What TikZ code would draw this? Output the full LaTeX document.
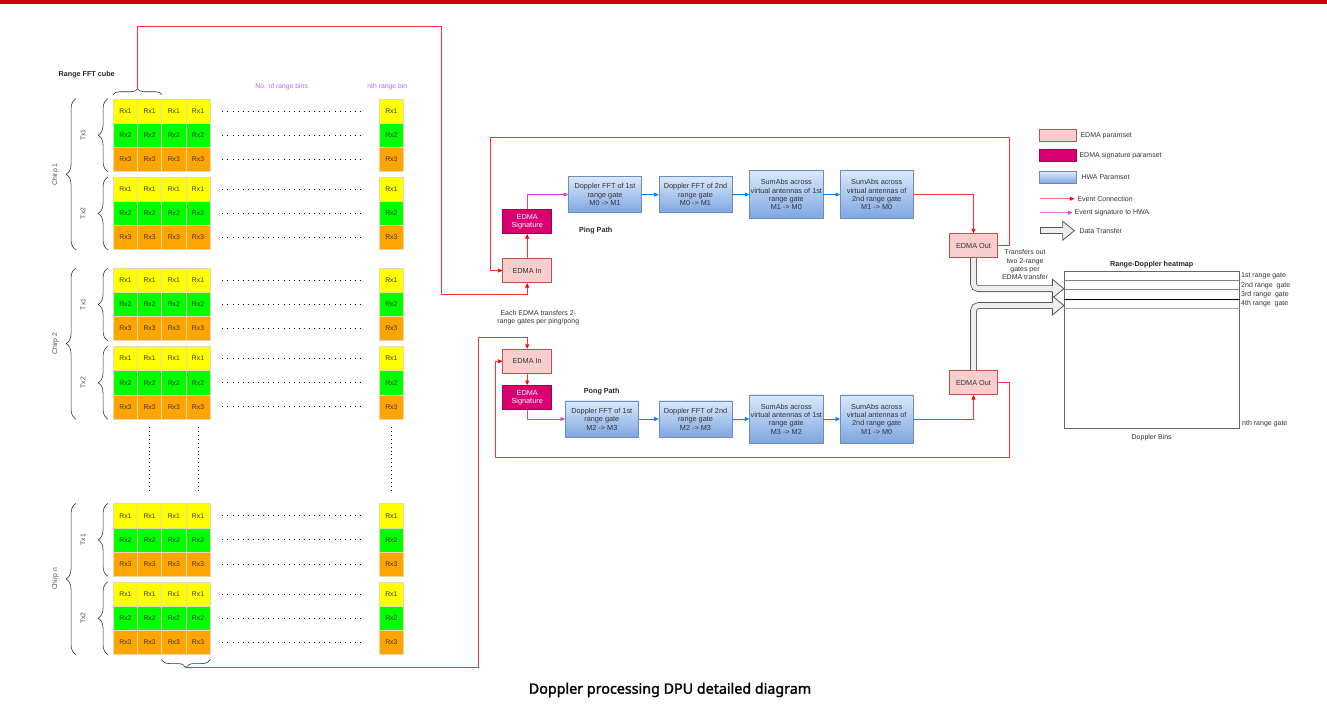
\documentclass[tikz,border=0pt]{standalone}
\usepackage{fontspec}
\setmainfont{Liberation Sans}
\newfontfamily\capfont[AutoFakeBold=1.6]{Noto Sans}
\usetikzlibrary{positioning,arrows.meta,decorations.pathreplacing,calc}

\definecolor{rxa}{HTML}{FFFF00}
\definecolor{rxb}{HTML}{00FF00}
\definecolor{rxc}{HTML}{FFA500}
\definecolor{celledge}{HTML}{E8D9A8}
\definecolor{edmafill}{HTML}{F8CECC}
\definecolor{edmaline}{HTML}{B85450}
\definecolor{sigfill}{HTML}{D80073}
\definecolor{sigedge}{HTML}{A50040}
\definecolor{hwatop}{HTML}{DAE8FC}
\definecolor{hwabot}{HTML}{7EA6E0}
\definecolor{hwaline}{HTML}{6C8EBF}
\definecolor{evcol}{HTML}{FF3333}
\definecolor{sigcol}{HTML}{D040D0}
\definecolor{hwacol}{HTML}{007FFF}
\definecolor{binlbl}{HTML}{B266FF}
\definecolor{xferfill}{HTML}{EEEEEE}
\definecolor{xferline}{HTML}{555555}
\definecolor{txtcol}{HTML}{333333}

\tikzset{
  cell/.style={draw=celledge, line width=0.5pt, minimum width=24.2pt, minimum height=24.1pt,
    inner sep=0pt, font=\fontsize{6.8}{8}\selectfont, text=txtcol},
  rowdots/.style={line width=0.9pt, dash pattern=on 0.9pt off 4.2pt},
  coldots/.style={line width=0.9pt, dash pattern=on 0.9pt off 3pt},
  brc/.style={decorate, decoration={brace, amplitude=10pt}, draw=txtcol, line width=0.6pt},
  sidelbl/.style={rotate=90, font=\fontsize{6.8}{8}\selectfont, text=black!70},
  txt/.style={font=\fontsize{7.3}{8.4}\selectfont, text=txtcol, align=center},
  boldtxt/.style={font=\fontsize{7.2}{8.4}\selectfont\bfseries, text=black!85},
  edmabox/.style={draw=edmaline, fill=edmafill, line width=0.6pt, minimum width=49pt,
    minimum height=24.4pt, txt},
  sigbox/.style={draw=sigedge, fill=sigfill, line width=0.6pt, minimum width=49pt,
    minimum height=24.4pt, txt, text=white},
  hwabox/.style={draw=hwaline, top color=hwatop, bottom color=hwabot, line width=0.6pt,
    minimum width=73pt, minimum height=35.8pt, inner sep=1pt, txt},
  sumbox/.style={hwabox, minimum width=72.7pt, minimum height=48.2pt},
  evt/.style={draw=evcol, line width=0.7pt, -{Triangle[length=4.5pt,width=4pt,color=red]}},
  sigarr/.style={draw=sigcol, line width=0.7pt, -{Triangle[length=4.5pt,width=4pt,color=sigcol]}},
  hwaarr/.style={draw=hwacol, line width=0.7pt, -{Triangle[length=4.5pt,width=4pt]}},
  xfer/.style={draw=xferline, double=xferfill, double distance=5pt, line width=0.8pt,
    rounded corners=5pt},
  lgdtxt/.style={font=\fontsize{7}{8}\selectfont, text=txtcol, anchor=west, inner sep=0pt}
}

\newcommand\xferhead[1]{%
  \fill[xferfill] ($(#1)+(-11.6,-9.5)$) -- (#1) -- ($(#1)+(-11.6,9.5)$) -- cycle;
  \draw[xferline, line width=0.8pt] ($(#1)+(-11.6,-2.9)$) -- ($(#1)+(-11.6,-9.5)$) -- (#1)
    -- ($(#1)+(-11.6,9.5)$) -- ($(#1)+(-11.6,2.9)$);
}

\begin{document}
\begin{tikzpicture}[x=1pt,y=-1pt]
    \useasboundingbox (0,0) rectangle (1327,707);
    \fill[red!80!black] (0,0) rectangle (1327,3.5);

    % range FFT cube
    \foreach \c/\ty in {1/99,2/268.3,n/503.7}{
        \foreach \t/\dy in {1/0,2/78.3}{
            \foreach \r/\fc in {1/rxa,2/rxb,3/rxc}{
                \foreach \k in {1,...,4}
                    \node[cell, fill=\fc] (c\c-\t-\r-\k) at ({113.3+(\k-0.5)*24.2},{\ty+\dy+(\r-0.5)*24.1}) {Rx\r};
                \node[cell, fill=\fc] (c\c-\t-\r-m) at (391.3,{\ty+\dy+(\r-0.5)*24.1}) {Rx\r};
                \draw[rowdots] ([xshift=12pt]c\c-\t-\r-4.east) -- ([xshift=-14pt]c\c-\t-\r-m.west);
            }
            \draw[brc] ([xshift=-5pt]c\c-\t-3-1.south west) -- ([xshift=-5pt]c\c-\t-1-1.north west);
            \node[sidelbl] at ([xshift=-30pt]c\c-\t-2-1.west) {Tx\t};
        }
        \draw[brc] ([xshift=-37pt]c\c-2-3-1.south west) -- ([xshift=-37pt]c\c-1-1-1.north west);
        \node[sidelbl] at ($([xshift=-57.6pt]c\c-1-1-1.north west)!0.5!([xshift=-57.6pt]c\c-2-3-1.south west)$) {Chirp \c};
    }
    \foreach \k in {2,4,m}
        \draw[coldots] ([yshift=-8pt]c2-2-3-\k.south) -- ([yshift=12pt]cn-1-1-\k.north);

    \node[boldtxt] at (86.7,75) {Range FFT cube};
    \node[txt, text=binlbl, font=\fontsize{6.8}{8}\selectfont] at (281.7,86.7) {No. of range bins};
    \node[txt, text=binlbl, font=\fontsize{6.8}{8}\selectfont] at (387.3,86.7) {nth range bin};

    \draw[brc, decoration={brace, amplitude=6pt}] ([yshift=4pt]c1-1-1-1.north west) -- ([yshift=4pt]c1-1-1-2.north east);
    \coordinate (cubetop) at ([yshift=10pt]c1-1-1-1.north east);
    \draw[brc, decoration={brace, amplitude=8pt}] ([yshift=-5pt]cn-2-3-4.south east) -- ([yshift=-5pt]cn-2-3-3.south west);
    \coordinate (cubebot) at ([yshift=-13pt]cn-2-3-3.south east);

    % ping path
    \node[edmabox] (inA) at (527.2,270.5) {EDMA In};
    \node[sigbox] (sigA) at (527.2,221.5) {EDMA\\Signature};
    \node[hwabox] (fftA1) at (605,194.6) {Doppler FFT of 1st\\range gate\\M0 -> M1};
    \node[hwabox] (fftA2) at (695.5,194.6) {Doppler FFT of 2nd\\range gate\\M0 -> M1};
    \node[sumbox] (sumA1) at (786.3,194.6) {SumAbs across\\virtual antennas of 1st\\range gate\\M1 -> M0};
    \node[sumbox] (sumA2) at (876.7,194.6) {SumAbs across\\virtual antennas of\\2nd range gate\\M1 -> M0};
    \node[edmabox, minimum width=48.4pt, minimum height=24pt] (outA) at (973.5,245.7) {EDMA Out};
    \node[boldtxt] at (595.7,231) {Ping Path};

    \draw[evt] (inA) -- (sigA);
    \draw[sigarr] (sigA.north) |- (fftA1.west);
    \draw[hwaarr] (fftA1) -- (fftA2);
    \draw[hwaarr] (fftA2) -- (sumA1);
    \draw[hwaarr] (sumA1) -- (sumA2);
    \draw[evt] (sumA2.east) -| (outA.north);
    \draw[evt] (outA.east) -| (1009.3,137.3) -| ([xshift=-11.7pt]inA.west) -- (inA.west);
    \draw[evt] (cubetop) |- (441,26) -- (441,294) -| (inA.south);

    % pong path
    \node[edmabox] (inB) at (527.2,361.3) {EDMA In};
    \node[sigbox] (sigB) at (527.2,397.5) {EDMA\\Signature};
    \node[hwabox, minimum height=36.3pt] (fftB1) at (601.8,419) {Doppler FFT of 1st\\range gate\\M2 -> M3};
    \node[hwabox, minimum height=36.3pt] (fftB2) at (695.5,419) {Doppler FFT of 2nd\\range gate\\M2 -> M3};
    \node[sumbox] (sumB1) at (786.3,419) {SumAbs across\\virtual antennas of 1st\\range gate\\M3 -> M2};
    \node[sumbox] (sumB2) at (876.7,419) {SumAbs across\\virtual antennas of\\2nd range gate\\M1 -> M0};
    \node[edmabox, minimum width=48.4pt, minimum height=24pt] (outB) at (973.5,382.7) {EDMA Out};
    \node[boldtxt] at (601.7,391.7) {Pong Path};
    \node[txt, font=\fontsize{7}{8}\selectfont] at (538.3,317.3) {Each EDMA transfers 2-\\range gates per ping/pong};

    \draw[evt] (inB) -- (sigB);
    \draw[sigarr] (sigB.south) |- (fftB1.west);
    \draw[hwaarr] (fftB1) -- (fftB2);
    \draw[hwaarr] (fftB2) -- (sumB1);
    \draw[hwaarr] (sumB1) -- (sumB2);
    \draw[evt] (sumB2.east) -| (outB.south);
    \draw[evt] (outB.east) -| (1009.3,457.3) -| ([xshift=-6.7pt]inB.west) -- (inB.west);
    \draw[evt] (cubebot) -| (478,337) -| (inB.north);

    % range-doppler heatmap
    \node[draw=black!60, line width=0.7pt, minimum width=175pt, minimum height=156.6pt, inner sep=0pt] (hmap) at (1151.8,350) {};
    \node[boldtxt] at (1151.7,264.7) {Range-Doppler heatmap};
    \draw[black!50, line width=0.6pt] (hmap.west |- 0,280.3) -- (hmap.east |- 0,280.3);
    \draw[black!50, line width=0.6pt] (hmap.west |- 0,289.3) -- (hmap.east |- 0,289.3);
    \draw[black, line width=0.7pt] (hmap.west |- 0,299.3) -- (hmap.east |- 0,299.3);
    \draw[black!35, line width=1pt] (hmap.west |- 0,308.3) -- (hmap.east |- 0,308.3);
    \node[lgdtxt] at (1241,276.3) {1st range gate};
    \node[lgdtxt] at (1241,286) {2nd range\ \ gate};
    \node[lgdtxt] at (1241,295) {3rd range\ \ gate};
    \node[lgdtxt] at (1241,304) {4th range\ \ gate};
    \node[lgdtxt] at (1242,423.3) {nth range gate};
    \node[txt, font=\fontsize{7}{8}\selectfont] at (1151.7,437.7) {Doppler Bins};
    \node[txt, font=\fontsize{7}{8.4}\selectfont] at (1025,264.8) {Transfers out\\two 2-range\\gates per\\EDMA transfer};

    \coordinate (xferA) at (hmap.west |- 0,288.7);
    \coordinate (xferB) at (hmap.west |- 0,305.5);
    \draw[xfer] (outA.south) |- ([xshift=-11.6pt]xferA);
    \xferhead{xferA}
    \draw[xfer] (outB.north) |- ([xshift=-11.6pt]xferB);
    \xferhead{xferB}

    % legend
    \node[edmabox, minimum width=36.7pt, minimum height=12.4pt] (legA) at (1057.7,135.5) {};
    \node[lgdtxt, right=4pt of legA] {EDMA paramset};
    \node[sigbox, minimum width=36.7pt, minimum height=12.4pt] (legB) at (1057.7,155.5) {};
    \node[lgdtxt, right=3pt of legB] {EDMA signature paramset};
    \node[hwabox, minimum width=36.7pt, minimum height=11.6pt] (legC) at (1057.7,177.5) {};
    \node[lgdtxt, right=5pt of legC] {HWA Paramset};
    \coordinate (legDa) at (1040,198.7);
    \coordinate (legDb) at (1074.3,198.7);
    \draw[evt, draw=evcol!70] (legDa) -- (legDb);
    \node[lgdtxt, right=3pt of legDb] {Event Connection};
    \coordinate (legEa) at (1040,212.7);
    \coordinate (legEb) at (1072.5,212.7);
    \draw[sigarr, draw=sigcol!70] (legEa) -- (legEb);
    \node[lgdtxt, right=2pt of legEb] {Event signature to HWA};
    \coordinate (legFa) at (1040,230.7);
    \coordinate (legFb) at (1074.3,230.7);
    \draw[xfer, rounded corners=0pt] (legFa) -- ([xshift=-11.6pt]legFb);
    \draw[xferline, line width=0.8pt] ([yshift=2.9pt]legFa) -- ([yshift=-2.9pt]legFa);
    \xferhead{legFb}
    \node[lgdtxt, right=5pt of legFb] {Data Transfer};

    \node[font=\capfont\bfseries\fontsize{14.3}{17}\selectfont] at (670,690) {Doppler processing DPU detailed diagram};
\end{tikzpicture}
\end{document}
